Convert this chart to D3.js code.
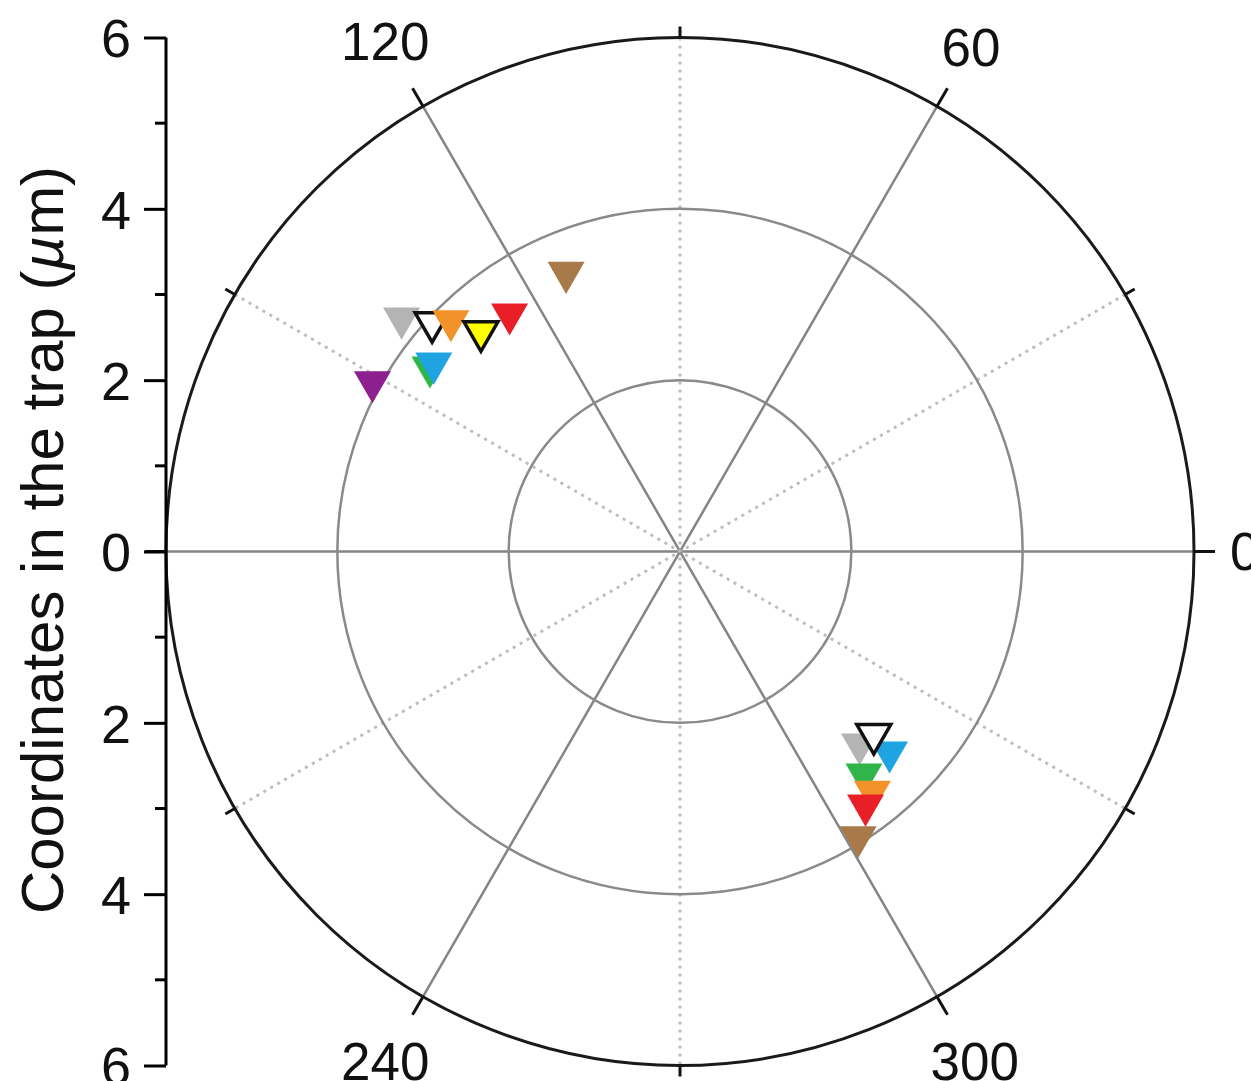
<!DOCTYPE html>
<html>
<head>
<meta charset="utf-8">
<script src="https://cdn.jsdelivr.net/npm/d3@7"></script>
<style>
  body { margin: 0; background: #fff; }
  text { font-family: Arial, "Liberation Sans", sans-serif; }
</style>
</head>
<body>
<div id="chart"></div>
<script>
// series (one colour per bead), upper cluster and lower cluster
var seriesNames = ["purple", "gray", "green", "blue", "open", "orange", "yellow", "red", "brown"];
var fills   = ["#8e1f8e", "#b4b4b4", "#2fb54a", "#1fa3e1", "#ffffff", "#f39229", "#ffff00", "#e81f27", "#a87a4a"];
var strokes = [null, null, null, null, "#111", null, "#111", null, null];

// theta in degrees, r in micrometres
var thetaUp = [151.9, 140.7, 144.4, 143.4, 137.9, 135.5, 132.8, 126.3, 112.6];
var rUp     = [4.07, 4.20, 3.59, 3.58, 3.90, 3.75, 3.42, 3.36, 3.46];
var thetaDown = [null, 312.2, 308.9, 315.5, 315.9, 308.1, null, 305.6, 301.5];
var rDown     = [null, 3.12, 3.42, 3.43, 3.15, 3.64, null, 3.72, 3.98];

var radialTicks = [2, 4, 6];
var angleTicks = [0, 30, 60, 90, 120, 150, 180, 210, 240, 270, 300, 330];
var angleLabels = [0, 60, 120, 240, 300];
var yTicks = [-6, -4, -2, 0, 2, 4, 6];
var yMinor = [-5, -3, -1, 1, 3, 5];
var yTitle = "Coordinates in the trap (";

var W = 1251, H = 1081;
var cx = 680, cy = 551.5, R = 514;

var svg = d3.select("#chart").append("svg")
  .attr("width", W)
  .attr("height", H);

var r = d3.scaleLinear().domain([0, 6]).range([0, R]);
var y = d3.scaleLinear().domain([-6, 6]).range([cy + R, cy - R]);

function pt(theta, rr) {
  var a = theta * Math.PI / 180;
  return [cx + r(rr) * Math.cos(a), cy - r(rr) * Math.sin(a)];
}

var g = svg.append("g");

// spokes: solid every 60, dotted every 30 in between
angleTicks.filter(function (d) { return d < 180; }).forEach(function (a) {
  var p1 = pt(a, 6), p2 = pt(a + 180, 6);
  var solid = a % 60 === 0;
  g.append("line")
    .attr("x1", p1[0]).attr("y1", p1[1])
    .attr("x2", p2[0]).attr("y2", p2[1])
    .attr("stroke", solid ? "#858585" : "#bdbdbd")
    .attr("stroke-width", solid ? 2.5 : 3)
    .attr("stroke-dasharray", solid ? null : "3,5");
});

// circles
g.selectAll(".ring")
  .data(radialTicks)
  .enter().append("circle")
  .attr("class", "ring")
  .attr("cx", cx).attr("cy", cy)
  .attr("r", function (d) { return r(d); })
  .attr("fill", "none")
  .attr("stroke", function (d) { return d === 6 ? "#1a1a1a" : "#8a8a8a"; })
  .attr("stroke-width", function (d) { return d === 6 ? 3 : 2.5; });

// angular ticks
angleTicks.forEach(function (a) {
  var len = a % 60 === 0 ? 21 : 11;
  var t = a * Math.PI / 180;
  g.append("line")
    .attr("x1", cx + R * Math.cos(t)).attr("y1", cy - R * Math.sin(t))
    .attr("x2", cx + (R + len) * Math.cos(t)).attr("y2", cy - (R + len) * Math.sin(t))
    .attr("stroke", "#111").attr("stroke-width", 3);
});

// angular labels
angleLabels.forEach(function (a) {
  var t = a * Math.PI / 180;
  var txt = g.append("text")
    .attr("font-size", 53)
    .attr("fill", "#111")
    .attr("text-anchor", "middle")
    .attr("dominant-baseline", "central")
    .text(a);
  var w = txt.node().getComputedTextLength(), h = 40;
  var rr = R + 36 + w / 2 * Math.abs(Math.cos(t)) + h / 2 * Math.abs(Math.sin(t));
  txt.attr("x", cx + rr * Math.cos(t)).attr("y", cy - rr * Math.sin(t));
});

// markers
function tri(w) {
  var h = w * 0.866;
  return "M" + (-w / 2) + "," + (-h / 2) + "L" + (w / 2) + "," + (-h / 2) + "L0," + (h / 2) + "Z";
}

var points = [];
seriesNames.forEach(function (s, i) {
  points.push({ s: i, theta: thetaUp[i], r: rUp[i] });
  if (thetaDown[i] !== null) points.push({ s: i, theta: thetaDown[i], r: rDown[i] });
});
points.sort(function (a, b) { return a.s - b.s; });

g.selectAll(".node")
  .data(points)
  .enter().append("path")
  .attr("class", "node")
  .attr("d", function (d) { return strokes[d.s] ? tri(34) : tri(37); })
  .attr("transform", function (d) { var p = pt(d.theta, d.r); return "translate(" + p[0] + "," + p[1] + ")"; })
  .attr("fill", function (d) { return fills[d.s]; })
  .attr("stroke", function (d) { return strokes[d.s] || "none"; })
  .attr("stroke-width", 3.5)
  .attr("stroke-linejoin", "miter");

// left axis
var yAxis = d3.axisLeft(y)
  .tickValues(yTicks)
  .tickSize(22)
  .tickPadding(13)
  .tickFormat(function (d) { return Math.abs(d); });

var ax = svg.append("g")
  .attr("transform", "translate(166,0)")
  .call(yAxis);
ax.select(".domain").attr("stroke", "#000").attr("stroke-width", 3)
  .attr("d", "M0," + y(6) + "V" + y(-6));
ax.selectAll(".tick line").attr("stroke", "#000").attr("stroke-width", 3);
ax.selectAll(".tick text").attr("font-size", 54).attr("fill", "#111")
  .attr("font-family", "Arial, 'Liberation Sans', sans-serif")
  .attr("dy", "0.36em");

ax.selectAll(".minor")
  .data(yMinor)
  .enter().append("line")
  .attr("class", "minor")
  .attr("x1", -11).attr("x2", 0)
  .attr("y1", function (d) { return y(d); })
  .attr("y2", function (d) { return y(d); })
  .attr("stroke", "#000").attr("stroke-width", 3);

var title = svg.append("text")
  .attr("transform", "translate(63,540) rotate(-90)")
  .attr("text-anchor", "middle")
  .attr("font-size", 60)
  .attr("fill", "#111");
title.append("tspan").text(yTitle);
title.append("tspan").attr("font-style", "italic").text("µ");
title.append("tspan").text("m)");
</script>
</body>
</html>
